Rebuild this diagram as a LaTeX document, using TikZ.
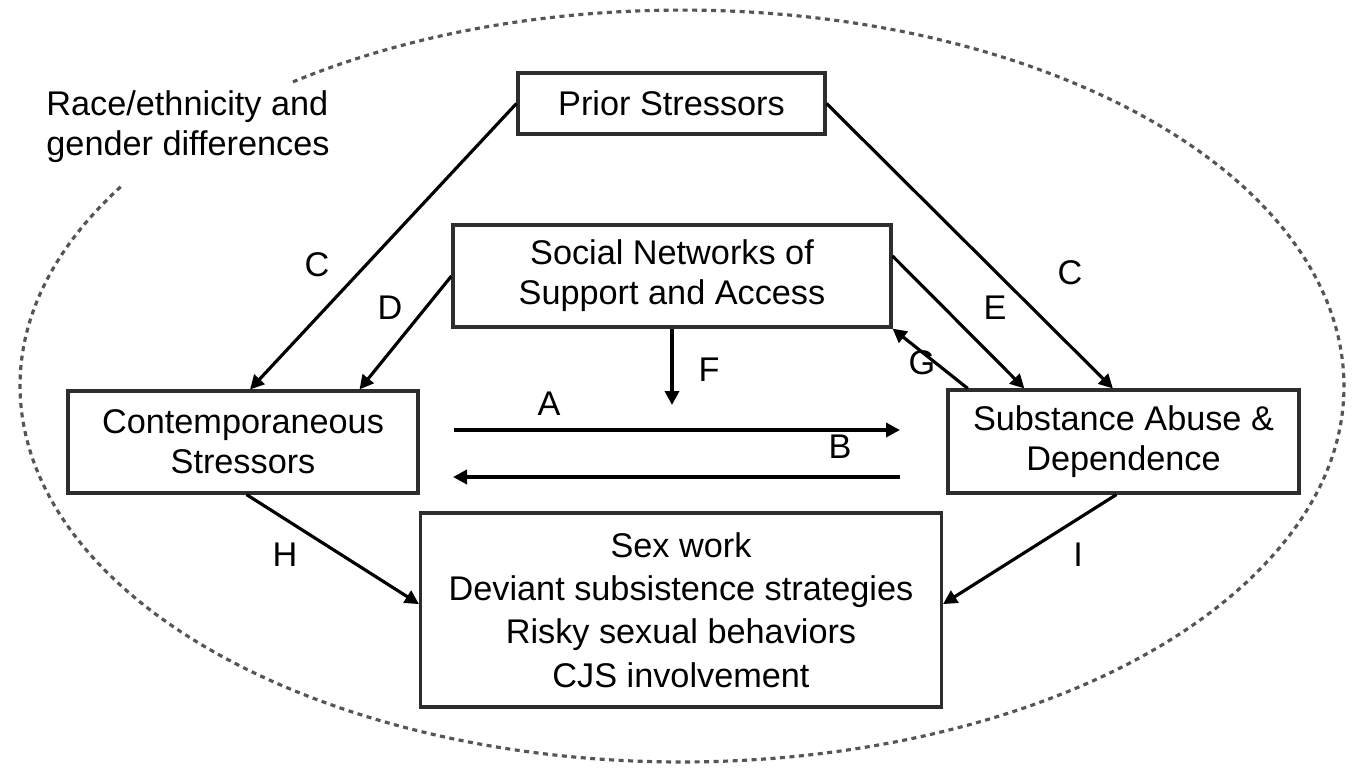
\documentclass[tikz,border=0pt]{standalone}
\usepackage{fontspec}
\setmainfont{Liberation Sans}
\usetikzlibrary{arrows.meta, positioning, calc}
\definecolor{framegray}{RGB}{45,45,45}
\definecolor{dashgray}{RGB}{85,85,85}

\begin{document}
\begin{tikzpicture}[x=0.02cm, y=-0.02cm,
    box/.style={draw=framegray, line width=1.8pt, fill=white, align=center, inner sep=0pt, font=\fontsize{19.5}{22.8}\selectfont},
    link/.style={line width=1.8pt, -{Triangle[length=2.8mm,width=2.8mm]}},
    heavylink/.style={link, line width=2.5pt},
    lbl/.style={inner sep=0pt, font=\fontsize{19.5}{22.8}\selectfont},
    ring/.style={draw=dashgray, line width=1.8pt, dash pattern=on 1mm off 0.9mm}]
        \useasboundingbox (0,0) rectangle (1355,771);

        % dashed outline, open at the upper left for its caption
        \coordinate (ctr) at (682,386);
        \draw[ring] ($(ctr)+(148:13.24cm and 7.52cm)$) arc[start angle=148, end angle=486, x radius=13.24cm, y radius=7.52cm];
        \node[lbl, align=left] at (188,127) (diffs) {Race/ethnicity and\\gender differences};

        \node[box, minimum width=6.14cm, minimum height=1.22cm] at (671.5,103.5) (prior) {Prior Stressors};
        \node[box, minimum width=8.76cm, minimum height=2.04cm] at (672,276) (social) {Social Networks of\\Support and Access};
        \node[box, minimum width=7cm, minimum height=2.04cm] at (243,442) (contemp) {Contemporaneous\\Stressors};
        \node[box, minimum width=7.02cm, minimum height=2.06cm] at (1123.5,441.5) (abuse) {Substance Abuse \&\\Dependence};
        \node[box, minimum width=10.42cm, minimum height=3.88cm, font=\fontsize{19.5}{24.6}\selectfont] at (681,610) (outcome) {Sex work\\Deviant subsistence strategies\\Risky sexual behaviors\\CJS involvement};

        % paths between the boxes
        \draw[link] (prior.west) -- ($(contemp.north west)!0.52!(contemp.north east)$);
        \draw[link] (social.west) -- ($(contemp.north west)!0.83!(contemp.north east)$);
        \draw[link] (prior.east) -- ($(abuse.north west)!0.47!(abuse.north east)$);
        \draw[link] ($(social.north east)!0.31!(social.south east)$) -- ($(abuse.north west)!0.22!(abuse.north east)$);
        \draw[link] ($(abuse.north west)!0.06!(abuse.north east)$) -- (social.south east);
        \coordinate (fend) at (672,405);
        \draw[heavylink] (social.south) -- (fend);
        \coordinate (aleft) at (454,430);
        \coordinate (aright) at (900,430);
        \draw[heavylink] (aleft) -- (aright);
        \coordinate (bleft) at (453,477);
        \coordinate (bright) at (900,477);
        \draw[heavylink] (bright) -- (bleft);
        \draw[link] ($(contemp.south west)!0.51!(contemp.south east)$) -- ($(outcome.north west)!0.47!(outcome.south west)$);
        \draw[link] ($(abuse.south west)!0.48!(abuse.south east)$) -- ($(outcome.north east)!0.47!(outcome.south east)$);

        % path letters
        \node[lbl] at (317,265) (lblCa) {C};
        \node[lbl] at (390,308) (lblD) {D};
        \node[lbl] at (1070,273) (lblCb) {C};
        \node[lbl] at (995,308) (lblE) {E};
        \node[lbl] at (922,363) (lblG) {G};
        \node[lbl] at (709,370) (lblF) {F};
        \node[lbl] at (549,404) (lblA) {A};
        \node[lbl] at (840,447) (lblB) {B};
        \node[lbl] at (285,555) (lblH) {H};
        \node[lbl] at (1078,555) (lblI) {I};
    \end{tikzpicture}
\end{document}
